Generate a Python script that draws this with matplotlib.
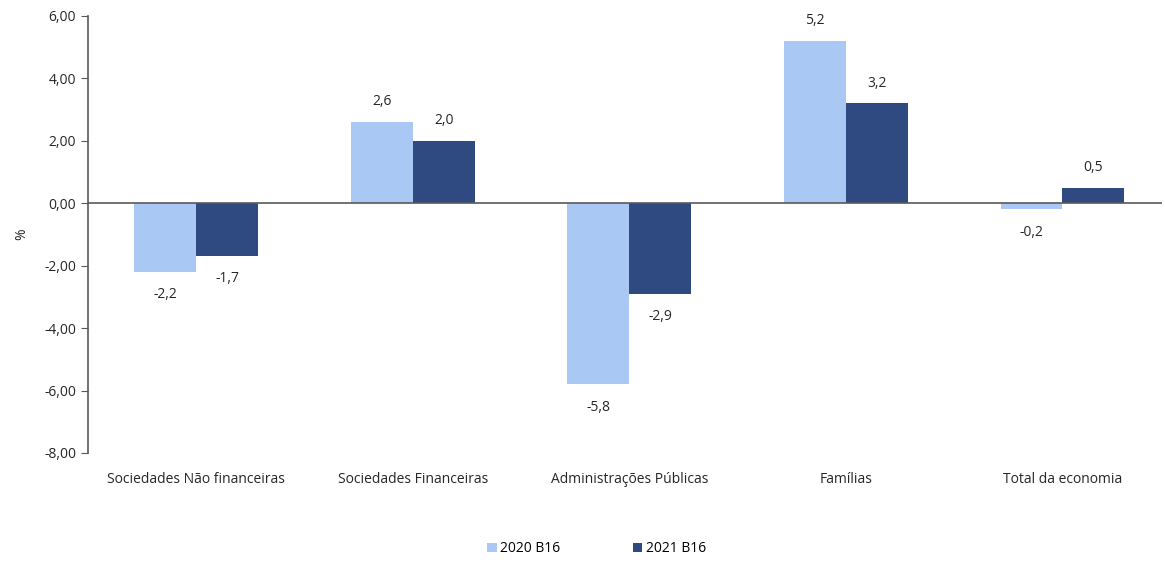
import numpy as np
import matplotlib.pyplot as plt

plt.rcParams['font.family'] = ['Open Sans', 'DejaVu Sans']

categories = ['Sociedades Não financeiras', 'Sociedades Financeiras',
              'Administrações Públicas', 'Famílias', 'Total da economia']
series_names = ['2020 B16', '2021 B16']
values_2020 = [-2.2, 2.6, -5.8, 5.2, -0.2]
values_2021 = [-1.7, 2.0, -2.9, 3.2, 0.5]
colors = ['#A9C8F4', '#2F4A80']

fig = plt.figure(figsize=(11.65, 5.62), dpi=100)
ax = fig.add_axes([0.0755, 0.194, 0.922, 0.778])

x = np.arange(len(categories))
w = 0.286
for i, (vals, name) in enumerate(zip([values_2020, values_2021], series_names)):
    pos = x + (i - 0.5) * w
    ax.bar(pos, vals, width=w, color=colors[i], label=name, zorder=2)
    for p, v in zip(pos, vals):
        txt = f'{v:.1f}'.replace('.', ',')
        ax.annotate(txt, (p, v), xytext=(0, 9 if v >= 0 else -11),
                    textcoords='offset points', ha='center',
                    va='bottom' if v >= 0 else 'top', fontsize=10, color='#262626')

ax.axhline(0, color='#595959', lw=1.2, zorder=3)
ax.set_xlim(-0.5, 4.46)
ax.set_ylim(-8, 6)
ax.set_yticks(np.arange(-8, 7, 2))
ax.set_yticklabels([f'{t:.2f}'.replace('.', ',') for t in np.arange(-8, 7, 2)])
ax.set_xticks(x)
ax.set_xticklabels(categories)
ax.tick_params(axis='x', length=0, pad=14, labelsize=10, labelcolor='#262626')
ax.tick_params(axis='y', length=5, color='#595959', labelsize=10, labelcolor='#262626')
for s in ['top', 'right', 'bottom']:
    ax.spines[s].set_visible(False)
ax.spines['left'].set_color('#595959')
ax.spines['left'].set_linewidth(1.2)
ax.set_ylabel('%', fontsize=10, color='#262626', labelpad=11)

fig.legend(loc='lower center', bbox_to_anchor=(0.512, -0.012), ncol=2, frameon=False,
           fontsize=10, handlelength=0.7, handleheight=0.7, columnspacing=5.2,
           handletextpad=0.25)

fig.savefig('out.png', dpi=100)
